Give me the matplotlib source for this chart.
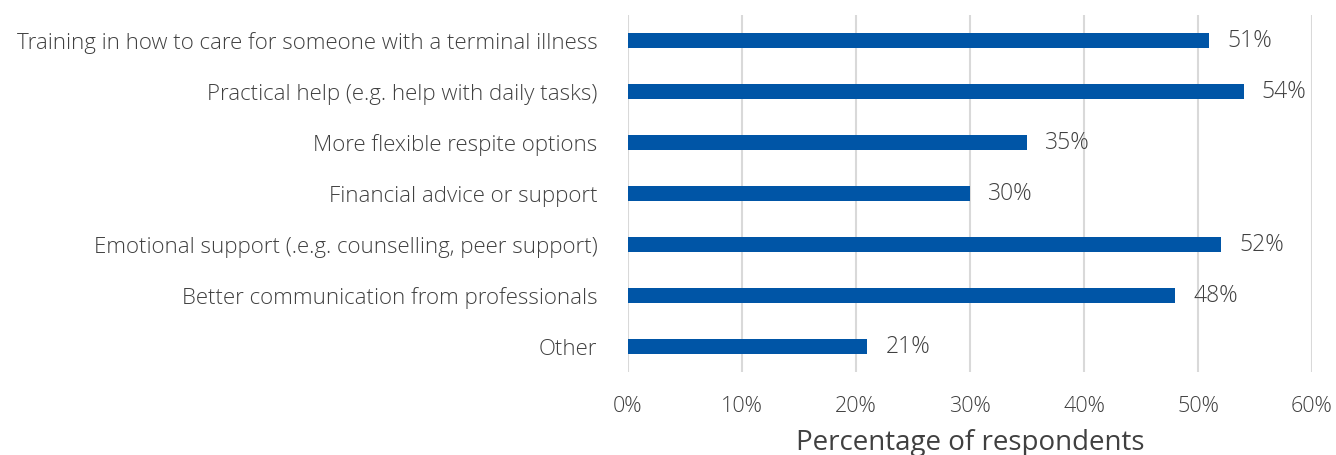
import matplotlib.pyplot as plt
from matplotlib.ticker import FuncFormatter

plt.rcParams['font.family'] = ['Open Sans', 'DejaVu Sans']
plt.rcParams['font.weight'] = 'light'

categories = [
    'Training in how to care for someone with a terminal illness',
    'Practical help (e.g. help with daily tasks)',
    'More flexible respite options',
    'Financial advice or support',
    'Emotional support (.e.g. counselling, peer support)',
    'Better communication from professionals',
    'Other',
]
values = [51, 54, 35, 30, 52, 48, 21]
x_ticks = [0, 10, 20, 30, 40, 50, 60]

bar_color = '#0055a6'
text_color = '#404040'

fig = plt.figure(figsize=(13.36, 4.55), dpi=100)
ax = fig.add_axes([0.470, 0.182, 0.512, 0.785])

pos = list(range(len(categories)))
bars = ax.barh(pos, values, height=0.3, color=bar_color, zorder=3)
for b, v in zip(bars, values):
    ax.text(b.get_width() + 1.6, b.get_y() + b.get_height() / 2, f'{v}%',
            va='center', ha='left', fontsize=16.5, color=text_color)

ax.set_yticks(pos)
ax.set_yticklabels(categories, fontsize=16, color=text_color)
ax.set_ylim(len(categories) - 0.5, -0.5)
ax.set_xlim(0, 60)
ax.set_xticks(x_ticks)
ax.xaxis.set_major_formatter(FuncFormatter(lambda v, p: f'{v:.0f}%'))
ax.tick_params(axis='x', labelsize=15.5, labelcolor=text_color, length=0, pad=17)
ax.tick_params(axis='y', length=0, pad=22)
ax.grid(axis='x', color='#d9d9d9', linewidth=1.5, zorder=0)
for s in ax.spines.values():
    s.set_visible(False)
ax.set_xlabel('Percentage of respondents', fontsize=20, color=text_color, labelpad=9)

fig.savefig('out.png', dpi=100)
